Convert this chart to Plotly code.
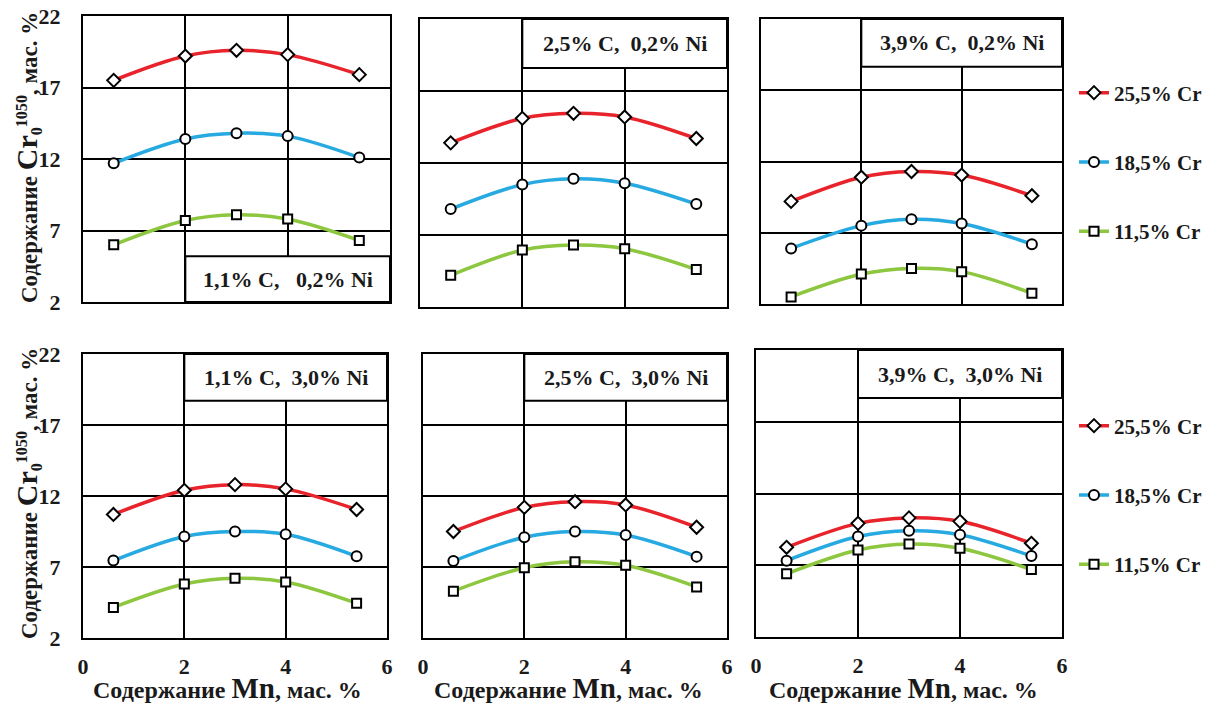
import plotly.graph_objects as go

# ---- data ----
mn = [0.6, 2, 3, 4, 5.4]
series_names = ["25,5% Cr", "18,5% Cr", "11,5% Cr"]
panel_labels = ["1,1% C,   0,2% Ni", "2,5% C,  0,2% Ni", "3,9% C,  0,2% Ni",
                "1,1% C,  3,0% Ni", "2,5% C,  3,0% Ni", "3,9% C,  3,0% Ni"]
# values per panel: [red, blue, green]
p1 = [[17.5, 19.2, 19.6, 19.3, 17.9], [11.7, 13.4, 13.8, 13.6, 12.1], [6.0, 7.7, 8.1, 7.8, 6.3]]
p2 = [[13.4, 15.1, 15.45, 15.2, 13.7], [8.8, 10.5, 10.9, 10.6, 9.15], [4.2, 5.95, 6.3, 6.05, 4.6]]
p3 = [[9.2, 10.9, 11.3, 11.05, 9.6], [5.9, 7.5, 7.95, 7.65, 6.2], [2.5, 4.1, 4.5, 4.27, 2.75]]
p4 = [[10.7, 12.4, 12.8, 12.5, 11.05], [7.45, 9.15, 9.5, 9.3, 7.75], [4.15, 5.8, 6.2, 5.95, 4.45]]
p5 = [[9.5, 11.2, 11.6, 11.37, 9.8], [7.42, 9.1, 9.5, 9.25, 7.73], [5.3, 6.95, 7.37, 7.12, 5.6]]
p6 = [[8.25, 9.92, 10.3, 10.06, 8.53], [7.32, 9.0, 9.4, 9.13, 7.64], [6.4, 8.06, 8.48, 8.18, 6.7]]
panels = [p1, p2, p3, p4, p5, p6]
x_ticks = [0, 2, 4, 6]
y_ticks = [2, 7, 12, 17, 22]

# ---- styling / layout ----
W, H = 1218, 706
OFF = 0  # body margin removed by post_script
colors = ["#e8232b", "#27a9e1", "#8dc63f"]
symbols = ["diamond", "circle", "square"]
msizes = [10, 10, 9]
# panel pixel boxes in the photographed page: (x0, x1, y0, y1) from top
boxes = [(83, 390, 16, 302), (420, 727, 19, 307), (761, 1062, 19, 304),
         (83, 387, 354, 638), (423, 727, 354, 638), (756, 1062, 350, 637)]
label_boxes = [(2, 6, 2, 5.2), (2, 6, 18.6, 22), (2, 6, 18.65, 22),
               (2, 6, 18.7, 22), (2, 6, 18.7, 22), (2, 6, 18.65, 22)]
FONT = "Liberation Serif"
TXT = "#1a1a1a"


def px(v):
    return (v - OFF) / W


def py(v):
    return 1 - (v - OFF) / H


fig = go.Figure()
for i, pdata in enumerate(panels):
    ax = "" if i == 0 else str(i + 1)
    for k in range(3):
        leg = "legend"
        show = False
        if i == 2:
            show = True
        elif i == 5:
            show, leg = True, "legend2"
        fig.add_trace(go.Scatter(
            x=mn, y=pdata[k], mode="lines+markers", name=series_names[k],
            line=dict(color=colors[k], width=3.5, shape="spline", smoothing=1.0),
            marker=dict(symbol=symbols[k], size=msizes[k], color="white",
                        line=dict(color="black", width=2)),
            xaxis="x" + ax, yaxis="y" + ax, showlegend=show,
            legend=leg, legendgroup=f"g{i}_{k}"))

layout = dict(width=W, height=H, margin=dict(l=0, r=0, t=0, b=0, autoexpand=False),
              paper_bgcolor="white", plot_bgcolor="white", showlegend=True)
shapes = []
annotations = []
for i, (x0, x1, y0, y1) in enumerate(boxes):
    ax = "" if i == 0 else str(i + 1)
    row = i // 3
    col = i % 3
    xa = dict(domain=[px(x0), px(x1)], range=[0, 6], tickvals=x_ticks,
              showgrid=True, gridcolor="black", gridwidth=1.5,
              showline=True, linecolor="black", linewidth=2, mirror=True,
              zeroline=False, ticks="", showticklabels=(row == 1), automargin=False,
              tickfont=dict(family=FONT, size=22, color=TXT, weight="bold"),
              ticklabelstandoff=8, ticklabeloverflow="allow",
              anchor="y" + ax, fixedrange=True)
    ya = dict(domain=[py(y1), py(y0)], range=[2, 22], tickvals=y_ticks,
              showgrid=True, gridcolor="black", gridwidth=1.5,
              showline=True, linecolor="black", linewidth=2, mirror=True,
              zeroline=False, ticks="", showticklabels=(col == 0), automargin=False,
              tickfont=dict(family=FONT, size=22, color=TXT, weight="bold"),
              ticklabelstandoff=16, ticklabeloverflow="allow",
              anchor="x" + ax, fixedrange=True)
    layout["xaxis" + ax] = xa
    layout["yaxis" + ax] = ya
    bx0, bx1, by0, by1 = label_boxes[i]
    shapes.append(dict(type="rect", xref="x" + ax, yref="y" + ax,
                       x0=bx0, x1=bx1, y0=by0, y1=by1, fillcolor="white",
                       line=dict(color="black", width=2), layer="above"))
    annotations.append(dict(xref="x" + ax, yref="y" + ax, x=(bx0 + bx1) / 2,
                            y=(by0 + by1) / 2, text=panel_labels[i], showarrow=False,
                            font=dict(family=FONT, size=22, color=TXT, weight="bold"),
                            xanchor="center", yanchor="middle"))

ytitle = ("Содержание <span style='font-size:30px'>Cr</span><sub>0</sub>"
          "<sup>1050</sup>, мас. %")
for yc in (158, 494):
    annotations.append(dict(xref="paper", yref="paper", x=px(27), y=py(yc),
                            text=ytitle, textangle=-90, showarrow=False,
                            xanchor="center", yanchor="middle",
                            font=dict(family=FONT, size=23, color=TXT, weight="bold")))
xtitle = "Содержание <span style='font-size:29px'>Mn</span>, мас. %"
for xc in (227, 568, 903):
    annotations.append(dict(xref="paper", yref="paper", x=px(xc), y=py(688),
                            text=xtitle, showarrow=False,
                            xanchor="center", yanchor="middle",
                            font=dict(family=FONT, size=24, color=TXT, weight="bold")))

legfont = dict(family=FONT, size=21, color=TXT, weight="bold")
for name, yc in (("legend", 162), ("legend2", 495)):
    layout[name] = dict(x=px(1074), xanchor="left", y=py(yc), yanchor="middle",
                        tracegroupgap=39, font=legfont, itemwidth=30,
                        bgcolor="rgba(0,0,0,0)", traceorder="grouped")
layout["shapes"] = shapes
layout["annotations"] = annotations
fig.update_layout(**layout)
fig.write_html("out.html", config={"displayModeBar": False},
               post_script="document.body.style.margin='0';")
